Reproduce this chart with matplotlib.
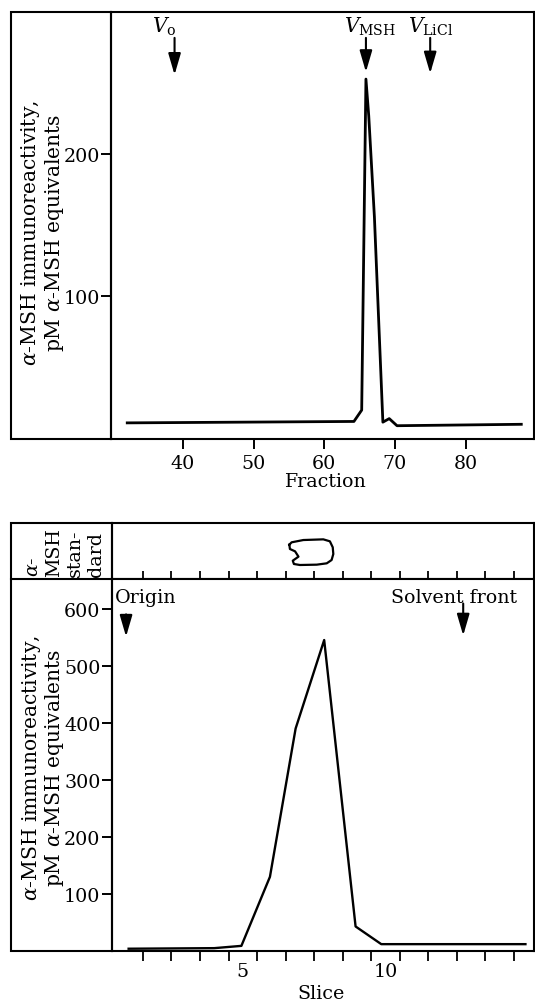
import matplotlib.pyplot as plt
from matplotlib.patches import Rectangle
from matplotlib.lines import Line2D

plt.rcParams['font.family'] = 'DejaVu Serif'
plt.rcParams['mathtext.fontset'] = 'dejavuserif'
plt.rcParams['font.size'] = 13.7

# gel filtration profile
fraction = [32.1, 64.2, 65.3, 65.9, 66.3, 67.1, 68.3, 69.2, 70.3, 87.9]
msh_fraction = [11, 12, 20, 253, 227, 156, 11.5, 14, 9, 10]
vol_labels = [r'$V_{\rm o}$', r'$V_{\rm MSH}$', r'$V_{\rm LiCl}$']
vol_x = [38.8, 65.9, 75.0]

# thin layer slices
slice_no = [1.0, 4.0, 4.95, 5.95, 6.85, 7.85, 8.95, 9.85, 14.9]
msh_slice = [4, 5, 9, 130, 390, 545, 43, 12, 12]
tlc_labels = ['Origin', 'Solvent front']
tlc_x = [0.91, 12.72]

# standard spot outline (slice, strip height)
spot_x = [6.63, 6.71, 7.12, 7.82, 8.05, 8.15, 8.17, 8.11, 7.94, 7.59, 7.00,
          6.79, 6.75, 6.95, 6.83, 6.65, 6.63]
spot_y = [0.613, 0.655, 0.696, 0.708, 0.673, 0.566, 0.446, 0.339, 0.280,
          0.256, 0.25, 0.268, 0.327, 0.399, 0.494, 0.536, 0.613]

W, H = 535, 1003
fig = plt.figure(figsize=(W / 100, H / 100), dpi=100)


def fx(px):
    return px / W


def fy(py):
    return 1 - py / H


lw = 1.5
ylab = '$\\alpha$-MSH immunoreactivity,\npM $\\alpha$-MSH equivalents'
arrow = dict(arrowstyle='-|>,head_length=1.3,head_width=0.38', lw=1.5,
             color='black', shrinkA=0, shrinkB=0, mutation_scale=10)

# ---- top panel ----
ax1 = fig.add_axes([fx(111), fy(439.5), fx(534) - fx(111), fy(13.3) - fy(439.5)])
ax1.plot(fraction, msh_fraction, color='black', lw=2)
ax1.set_xlim(29.8, 89.7)
ax1.set_ylim(0, 300)
ax1.set_xticks([40, 50, 60, 70, 80])
ax1.set_yticks([100, 200])
ax1.tick_params(direction='out', length=7, width=1.4, pad=4)
ax1.tick_params(axis='y', pad=1)
for s in ax1.spines.values():
    s.set_linewidth(lw)
ax1.set_xlabel('Fraction')
ax1.xaxis.set_label_coords(0.506, -0.078)
ax1.set_ylabel(ylab, va='center', linespacing=1.05, fontsize=14.6)
ax1.yaxis.set_label_coords(-0.161, 0.485)
for lab, x, tip in zip(vol_labels, vol_x, [256, 258, 257]):
    ax1.annotate('', xy=(x, tip), xytext=(x, 282), arrowprops=arrow)
    ax1.annotate(lab, xy=(x, 286), xytext=(-16, 0), textcoords='offset points',
                 ha='left', va='baseline', fontsize=14.5)

fig.add_artist(Rectangle((fx(11), fy(439.5)), fx(111) - fx(11), fy(13.3) - fy(439.5),
                         transform=fig.transFigure, fill=False, lw=lw, ec='black'))

# ---- bottom panel: strip ----
ax2 = fig.add_axes([fx(111.5), fy(580), fx(534) - fx(111.5), fy(524) - fy(580)])
ax3 = fig.add_axes([fx(111.5), fy(952), fx(534) - fx(111.5), fy(580) - fy(952)])
xl = (0.40, 15.2)
ax2.set_xlim(*xl)
ax2.set_ylim(0, 1)
ax2.plot(spot_x, spot_y, color='black', lw=1.6, solid_joinstyle='round')
ax2.set_xticks([i + 0.5 for i in range(1, 15)])
ax2.set_xticklabels([])
ax2.set_yticks([])
ax2.tick_params(axis='x', direction='in', length=6, width=1.3)
for s in ax2.spines.values():
    s.set_linewidth(lw)
ax2.text(-0.111, 0.05, '$\\alpha$-\nMSH\nstan-\ndard', transform=ax2.transAxes,
         rotation=90, ha='center', va='bottom', multialignment='left',
         linespacing=1.22)

# ---- bottom panel: main ----
ax3.plot(slice_no, msh_slice, color='black', lw=1.7)
ax3.set_xlim(*xl)
ax3.set_ylim(0, 652)
ax3.set_yticks([100, 200, 300, 400, 500, 600])
ax3.set_xticks([5, 10])
ax3.set_xticks([i + 0.5 for i in range(1, 15)], minor=True)
ax3.tick_params(axis='x', which='major', length=0, pad=8)
ax3.tick_params(axis='x', which='minor', direction='out', length=7, width=1.3)
ax3.tick_params(axis='y', direction='out', length=7, width=1.4, pad=1)
for s in ax3.spines.values():
    s.set_linewidth(lw)
ax3.set_xlabel('Slice')
ax3.xaxis.set_label_coords(0.497, -0.09)
ax3.set_ylabel(ylab, va='center', linespacing=1.05, fontsize=14.6)
ax3.yaxis.set_label_coords(-0.162, 0.495)

ax3.annotate('', xy=(tlc_x[0], 551), xytext=(tlc_x[0], 590), arrowprops=arrow)
ax3.annotate('', xy=(tlc_x[1], 553), xytext=(tlc_x[1], 609), arrowprops=arrow)
ax3.text(0.52, 612, tlc_labels[0], ha='left', va='baseline')
ax3.text(12.4, 612, tlc_labels[1], ha='center', va='baseline')

fig.add_artist(Rectangle((fx(11), fy(952)), fx(111.5) - fx(11), fy(524) - fy(952),
                         transform=fig.transFigure, fill=False, lw=lw, ec='black'))
fig.add_artist(Line2D([fx(11), fx(111.5)], [fy(580), fy(580)],
                      transform=fig.transFigure, lw=lw, color='black'))

fig.savefig('out.png', dpi=100)
